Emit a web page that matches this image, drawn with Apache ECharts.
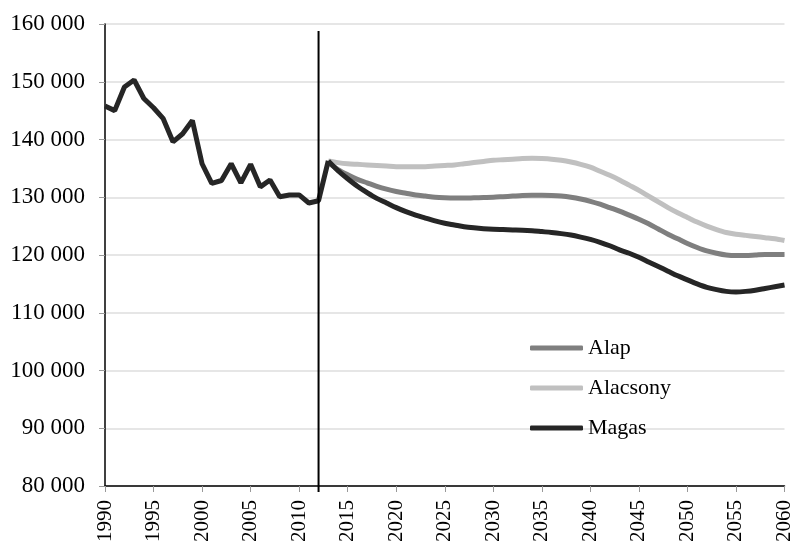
<!DOCTYPE html>
<html>
<head>
<meta charset="utf-8">
<script src="https://cdn.jsdelivr.net/npm/echarts@6/dist/echarts.min.js"></script>
<style>html,body{margin:0;padding:0;background:#fff}#c{width:795px;height:546px}</style>
</head>
<body>
<div id="c"></div>
<script>
const histYears = [1990,1991,1992,1993,1994,1995,1996,1997,1998,1999,2000,2001,2002,2003,2004,2005,2006,2007,2008,2009,2010,2011,2012,2013];
const histValues = [145800,145000,149100,150300,147100,145500,143600,139600,141000,143300,135800,132400,132900,135800,132500,135700,131800,133000,130100,130400,130400,129000,129400,136300];

const projYears = [2013,2014,2015,2016,2017,2018,2019,2020,2021,2022,2023,2024,2025,2026,2027,2028,2029,2030,2031,2032,2033,2034,2035,2036,2037,2038,2039,2040,2041,2042,2043,2044,2045,2046,2047,2048,2049,2050,2051,2052,2053,2054,2055,2056,2057,2058,2059,2060];
const alap = [136000,134800,133900,133100,132500,131900,131400,131000,130700,130400,130200,130000,129900,129850,129850,129900,129950,130000,130100,130200,130300,130350,130350,130300,130200,130000,129700,129300,128800,128200,127600,126900,126200,125400,124500,123600,122800,122000,121300,120700,120300,120000,119900,119900,120000,120100,120100,120100];
const alacsony = [136300,136000,135800,135700,135600,135500,135400,135300,135300,135300,135300,135400,135500,135600,135800,136000,136200,136400,136500,136600,136700,136750,136700,136600,136400,136100,135700,135200,134500,133800,133000,132100,131200,130200,129200,128200,127300,126500,125700,125000,124400,123900,123600,123400,123200,123000,122800,122500];
const magas = [136300,134600,133200,131900,130800,129800,129000,128200,127500,126900,126400,125900,125500,125200,124900,124700,124550,124450,124400,124350,124300,124200,124050,123900,123700,123450,123100,122700,122200,121600,120900,120300,119600,118800,118000,117200,116400,115700,115000,114400,114000,113700,113600,113700,113900,114200,114500,114800];

const seriesNames = ['Alap','Alacsony','Magas'];
const markYear = 2012;
const markTop = 158800;
const markBottom = 78960;

const zip = (xs, ys) => xs.map((x, i) => [x, ys[i]]);
const fmt = v => String(v).replace(/\B(?=(\d{3})+(?!\d))/g, ' ');

const chart = echarts.init(document.getElementById('c'), null, {renderer: 'canvas'});
chart.setOption({
  animation: false,
  backgroundColor: '#fff',
  grid: {left: 105, right: 8, top: 24, bottom: 60, containLabel: false},
  legend: {
    data: seriesNames.map(n => ({name: n, icon: 'roundRect'})),
    orient: 'vertical',
    left: 525, top: 332,
    itemWidth: 53, itemHeight: 5, itemGap: 18,
    textStyle: {fontFamily: 'Liberation Serif', fontSize: 22, lineHeight: 22, color: '#000'}
  },
  xAxis: {
    type: 'value', min: 1990, max: 2060, interval: 5,
    axisLine: {show: true, lineStyle: {color: '#000', width: 1.5}},
    axisTick: {show: true, length: 6, lineStyle: {color: '#999'}},
    splitLine: {show: false},
    axisLabel: {rotate: 90, fontFamily: 'Liberation Serif', fontSize: 21, color: '#000', margin: 14, formatter: v => String(v)}
  },
  yAxis: {
    type: 'value', min: 80000, max: 160000, interval: 10000,
    axisLine: {show: true, lineStyle: {color: '#000', width: 1.5}},
    axisTick: {show: true, length: 6, lineStyle: {color: '#999'}},
    splitLine: {show: true, lineStyle: {color: '#dedede', width: 1.5}},
    axisLabel: {fontFamily: 'Liberation Serif', fontSize: 23, color: '#000', margin: 20, formatter: fmt}
  },
  series: [
    {
      name: 'divider', type: 'line', data: [[markYear, markTop], [markYear, markBottom]],
      symbol: 'none', clip: false, silent: true,
      lineStyle: {color: '#000', width: 2}, z: 4
    },
    {
      name: 'hist', type: 'line', data: zip(histYears, histValues), symbol: 'none',
      lineStyle: {color: '#262626', width: 5}, itemStyle: {color: '#262626'}, z: 3
    },
    {name: 'Alap', type: 'line', data: zip(projYears, alap), symbol: 'none', smooth: 0.3,
     lineStyle: {color: '#7f7f7f', width: 5}, itemStyle: {color: '#7f7f7f'}, z: 2},
    {name: 'Alacsony', type: 'line', data: zip(projYears, alacsony), symbol: 'none', smooth: 0.3,
     lineStyle: {color: '#c0c0c0', width: 5}, itemStyle: {color: '#c0c0c0'}, z: 1},
    {name: 'Magas', type: 'line', data: zip(projYears, magas), symbol: 'none', smooth: 0.3,
     lineStyle: {color: '#262626', width: 5}, itemStyle: {color: '#262626'}, z: 3}
  ]
});
</script>
</body>
</html>
